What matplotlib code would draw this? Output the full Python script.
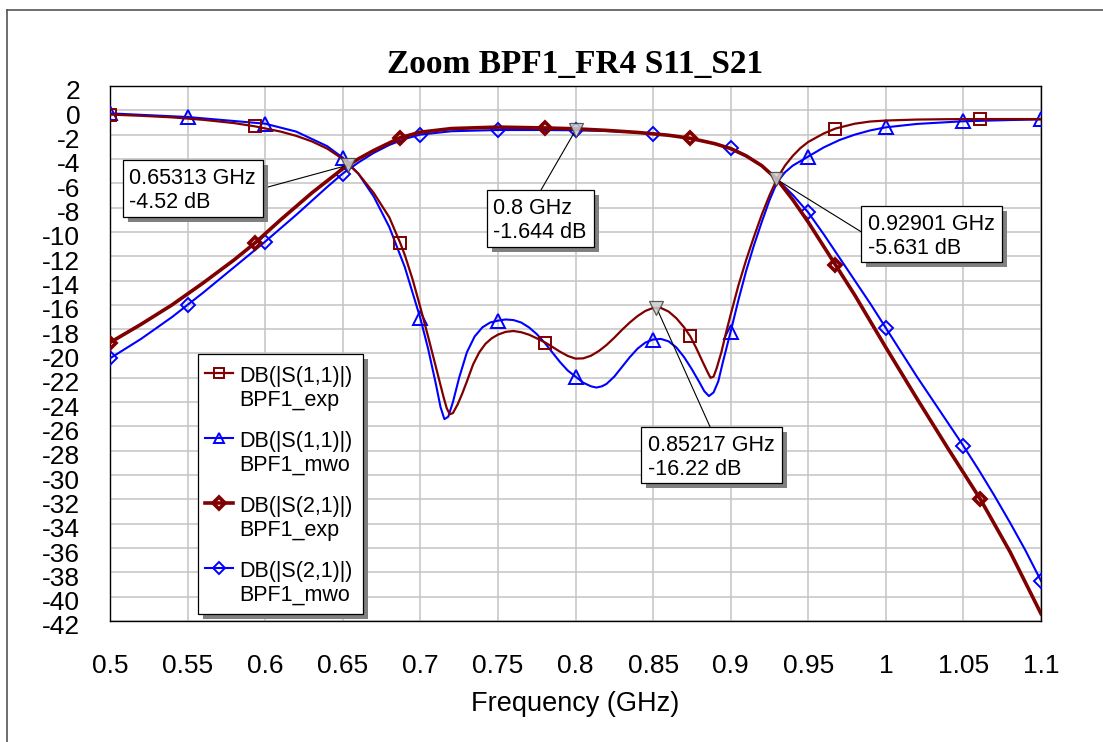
import numpy as np
import matplotlib
matplotlib.use("Agg")
import matplotlib.pyplot as plt
from matplotlib.patches import Rectangle
from matplotlib.lines import Line2D
from matplotlib.transforms import ScaledTranslation

plt.rcParams['font.family'] = ['Liberation Sans', 'DejaVu Sans']

# ---------------- data ----------------
# |S11| measured (dB)
f_s11_exp = [0.500, 0.520, 0.540, 0.560, 0.580, 0.5935, 0.610, 0.620, 0.630, 0.640,
             0.650, 0.660, 0.670, 0.680, 0.687, 0.690, 0.695, 0.700, 0.705, 0.710,
             0.715, 0.717, 0.719, 0.721, 0.724, 0.727, 0.730, 0.734, 0.738, 0.742,
             0.746, 0.750, 0.755, 0.760, 0.765, 0.770, 0.775, 0.7805, 0.785, 0.790,
             0.795, 0.800, 0.805, 0.810, 0.815, 0.820, 0.825, 0.830, 0.835, 0.840,
             0.845, 0.850, 0.855, 0.860, 0.865, 0.870, 0.874, 0.878, 0.882, 0.885,
             0.887, 0.889, 0.891, 0.894, 0.897, 0.900, 0.905, 0.910, 0.915, 0.920,
             0.925, 0.930, 0.935, 0.940, 0.945, 0.950, 0.960, 0.9675, 0.980, 0.990,
             1.000, 1.020, 1.040, 1.061, 1.080, 1.100]
db_s11_exp = [-0.35, -0.45, -0.58, -0.78, -1.05, -1.32, -1.75, -2.10, -2.55, -3.15,
              -4.00, -5.20, -6.80, -8.80, -10.90, -11.90, -13.90, -16.20, -18.60, -21.10,
              -23.60, -24.50, -25.00, -24.90, -24.20, -23.30, -22.30, -20.90, -19.90, -19.20,
              -18.75, -18.45, -18.22, -18.15, -18.25, -18.45, -18.75, -19.10, -19.45, -19.85,
              -20.20, -20.42, -20.40, -20.18, -19.80, -19.30, -18.70, -18.05, -17.45, -16.92,
              -16.50, -16.25, -16.25, -16.55, -17.10, -17.85, -18.60, -19.60, -20.70, -21.50,
              -22.00, -21.90, -21.20, -19.90, -18.30, -16.80, -14.40, -12.30, -10.40, -8.60,
              -7.00, -5.60, -4.55, -3.75, -3.10, -2.60, -1.90, -1.50, -1.10, -0.92,
              -0.84, -0.76, -0.73, -0.72, -0.72, -0.72]

# |S11| simulated (dB)
f_s11_mwo = [0.500, 0.550, 0.600, 0.620, 0.640, 0.650, 0.660, 0.670, 0.680, 0.690,
             0.700, 0.705, 0.710, 0.713, 0.7155, 0.718, 0.721, 0.725, 0.730, 0.735,
             0.740, 0.745, 0.750, 0.755, 0.760, 0.765, 0.770, 0.775, 0.780, 0.785,
             0.790, 0.795, 0.800, 0.805, 0.810, 0.8135, 0.817, 0.820, 0.825, 0.830,
             0.835, 0.840, 0.845, 0.850, 0.855, 0.860, 0.865, 0.870, 0.875, 0.880,
             0.883, 0.886, 0.889, 0.892, 0.895, 0.900, 0.905, 0.910, 0.915, 0.920,
             0.925, 0.930, 0.935, 0.940, 0.950, 0.960, 0.970, 0.980, 0.990, 1.000,
             1.020, 1.050, 1.080, 1.100]
db_s11_mwo = [-0.25, -0.55, -1.10, -1.75, -2.95, -3.90, -5.20, -7.10, -9.60, -12.90,
              -17.10, -19.60, -22.50, -24.40, -25.40, -25.20, -24.00, -22.00, -19.90, -18.60,
              -17.85, -17.45, -17.30, -17.20, -17.25, -17.45, -17.85, -18.40, -19.10, -19.90,
              -20.70, -21.40, -21.90, -22.40, -22.70, -22.80, -22.70, -22.50, -21.90, -21.10,
              -20.30, -19.60, -19.10, -18.85, -18.80, -19.00, -19.50, -20.30, -21.30, -22.40,
              -23.10, -23.50, -23.20, -22.30, -20.70, -18.20, -15.60, -13.20, -11.10, -9.20,
              -7.40, -5.90, -5.10, -4.55, -3.80, -3.05, -2.45, -2.00, -1.65, -1.40,
              -1.12, -0.90, -0.80, -0.75]

# |S21| measured (dB)
f_s21_exp = [0.500, 0.520, 0.540, 0.550, 0.560, 0.580, 0.5935, 0.610, 0.620, 0.630,
             0.640, 0.650, 0.660, 0.670, 0.687, 0.700, 0.720, 0.750, 0.7805, 0.800,
             0.820, 0.840, 0.860, 0.874, 0.890, 0.900, 0.910, 0.920, 0.930, 0.940,
             0.950, 0.9675, 0.980, 1.000, 1.020, 1.040, 1.061, 1.080, 1.100]
db_s21_exp = [-19.10, -17.60, -16.00, -15.10, -14.20, -12.30, -10.90, -9.00, -7.90, -6.80,
              -5.80, -4.80, -4.00, -3.30, -2.25, -1.80, -1.50, -1.38, -1.45, -1.52,
              -1.65, -1.82, -2.05, -2.30, -2.75, -3.15, -3.75, -4.55, -5.70, -7.35,
              -9.20, -12.70, -15.20, -19.50, -23.70, -27.80, -32.00, -36.30, -41.40]

# |S21| simulated (dB)
f_s21_mwo = [0.50, 0.52, 0.54, 0.55, 0.56, 0.58, 0.60, 0.62, 0.64, 0.65,
             0.66, 0.67, 0.68, 0.69, 0.70, 0.72, 0.75, 0.78, 0.80, 0.82,
             0.84, 0.85, 0.86, 0.88, 0.90, 0.91, 0.92, 0.93, 0.94, 0.95,
             0.96, 0.97, 0.98, 0.99, 1.00, 1.01, 1.02, 1.03, 1.04, 1.05,
             1.06, 1.07, 1.08, 1.09, 1.10]
db_s21_mwo = [-20.40, -18.80, -17.00, -16.00, -15.00, -12.90, -10.80, -8.60, -6.30, -5.20,
              -4.30, -3.50, -2.85, -2.35, -2.00, -1.72, -1.62, -1.62, -1.644, -1.70,
              -1.82, -1.92, -2.05, -2.45, -3.10, -3.70, -4.55, -5.70, -6.95, -8.40,
              -10.20, -12.10, -14.00, -15.90, -17.90, -19.90, -21.90, -23.80, -25.70, -27.60,
              -29.60, -31.70, -33.90, -36.20, -38.70]

# symbol positions along the traces (GHz)
exp_marks = [0.5, 0.5935, 0.687, 0.7805, 0.874, 0.9675, 1.061]
mwo_marks = [0.5, 0.55, 0.6, 0.65, 0.7, 0.75, 0.8, 0.85, 0.9, 0.95, 1.0, 1.05, 1.1]

# readout markers
mk_freq = [0.65313, 0.8, 0.92901, 0.85217]
mk_db = [-4.52, -1.644, -5.631, -16.22]

x_ticks = [0.5, 0.55, 0.6, 0.65, 0.7, 0.75, 0.8, 0.85, 0.9, 0.95, 1.0, 1.05, 1.1]
x_tick_labels = ['0.5', '0.55', '0.6', '0.65', '0.7', '0.75', '0.8', '0.85', '0.9',
                 '0.95', '1', '1.05', '1.1']
y_ticks = list(range(-42, 3, 2))
y_tick_labels = [str(v) for v in y_ticks]

legend_lines = ['DB(|S(1,1)|)', 'DB(|S(1,1)|)', 'DB(|S(2,1)|)', 'DB(|S(2,1)|)']
legend_sources = ['BPF1_exp', 'BPF1_mwo', 'BPF1_exp', 'BPF1_mwo']

# ---------------- layout ----------------
W, H = 1103, 742
fig = plt.figure(figsize=(W / 100, H / 100), dpi=100)
fig.patch.set_facecolor('white')
AX_L, AX_R, AX_T, AX_B = 110, 1041, 86, 621
ax = fig.add_axes([AX_L / W, 1 - AX_B / H, (AX_R - AX_L) / W, (AX_B - AX_T) / H])


def axf(xp, yp):
    """Canvas pixel (origin top-left) -> axes fraction."""
    return (xp - AX_L) / (AX_R - AX_L), (AX_B - yp) / (AX_B - AX_T)


def figf(xp, yp):
    return xp / W, 1 - yp / H


# outer frame of the graph window
fx0, fy0 = figf(6.5, 9.5)
fig.add_artist(Line2D([fx0, 1.0], [fy0, fy0], transform=fig.transFigure,
                      color='#555555', lw=1.2))
fig.add_artist(Line2D([fx0, fx0], [fy0, 0.0], transform=fig.transFigure,
                      color='#555555', lw=1.2))

RED = '#800000'
BLUE = '#0000ff'


def idx_of(freqs, marks):
    f = np.asarray(freqs)
    return [int(np.argmin(np.abs(f - m))) for m in marks]


styles = [
    (f_s11_mwo, db_s11_mwo, dict(color=BLUE, lw=1.5, marker='^', ms=9.5, mfc='none',
                                 mec=BLUE, mew=1.4), mwo_marks),
    (f_s21_mwo, db_s21_mwo, dict(color=BLUE, lw=1.5, marker='D', ms=6.8, mfc='none',
                                 mec=BLUE, mew=1.4), mwo_marks),
    (f_s11_exp, db_s11_exp, dict(color=RED, lw=1.6, marker='s', ms=8.6, mfc='none',
                                 mec=RED, mew=1.4), exp_marks),
    (f_s21_exp, db_s21_exp, dict(color=RED, lw=2.6, marker='D', ms=6.5, mfc='none',
                                 mec=RED, mew=2.6), exp_marks),
]
for f, d, st, marks in styles:
    ax.plot(f, d, markevery=idx_of(f, marks), zorder=3, **st)

ax.set_xlim(0.5, 1.1)
ax.set_ylim(-42, 2)
ax.set_xticks(x_ticks)
ax.set_xticklabels(x_tick_labels)
ax.set_yticks(y_ticks)
ax.set_yticklabels(y_tick_labels)
ax.tick_params(axis='both', length=0, labelsize=19)
ax.tick_params(axis='x', pad=24)
ax.tick_params(axis='y', pad=21.5)
for lab in ax.get_yticklabels():
    lab.set_transform(lab.get_transform() + ScaledTranslation(0, -4 / 100, fig.dpi_scale_trans))
ax.grid(True, color='#c4c4c4', lw=1.1)
ax.set_axisbelow(True)
for sp in ax.spines.values():
    sp.set_color('black')
    sp.set_linewidth(1.0)

# readout markers
ax.plot(mk_freq, mk_db, linestyle='none', marker='v', ms=10, mfc='#d0d0d0',
        mec='#404040', mew=0.9, zorder=6, alpha=0.85)

# readout boxes: (left, top, right, bottom) and leader attachment, canvas px
boxes = [
    ((122.7, 160.0, 262.7, 216.7), (268.0, 187.0)),
    ((486.7, 190.0, 594.0, 247.0), (541.0, 190.0)),
    ((861.0, 205.7, 1001.7, 261.7), (861.0, 231.7)),
    ((641.0, 426.7, 781.7, 483.3), (710.0, 426.7)),
]
SH = 5.0
for ((l, t, r, b), (axp, ayp)), fq, dbv in zip(boxes, mk_freq, mk_db):
    ax.annotate('', xy=(fq, dbv), xytext=axf(axp, ayp), textcoords='axes fraction',
                arrowprops=dict(arrowstyle='-', color='black', lw=0.8,
                                shrinkA=0, shrinkB=0), zorder=5)
    x0, y0 = axf(l + SH, b + SH)
    x1, y1 = axf(r + SH, t + SH)
    ax.add_patch(Rectangle((x0, y0), x1 - x0, y1 - y0, transform=ax.transAxes,
                           facecolor='#808080', edgecolor='none', zorder=7, clip_on=False))
    x0, y0 = axf(l, b)
    x1, y1 = axf(r, t)
    ax.add_patch(Rectangle((x0, y0), x1 - x0, y1 - y0, transform=ax.transAxes,
                           facecolor='white', edgecolor='black', lw=0.9, zorder=8,
                           clip_on=False))
    tx, ty1 = axf(l + 6.7, t + 24.0)
    _, ty2 = axf(l + 6.7, t + 48.0)
    ax.text(tx, ty1, f'{fq:g} GHz', transform=ax.transAxes, fontsize=15.5,
            va='baseline', ha='left', zorder=9)
    ax.text(tx, ty2, f'{dbv:g} dB', transform=ax.transAxes, fontsize=15.5,
            va='baseline', ha='left', zorder=9)

# legend
LG_L, LG_T, LG_R, LG_B = 198.3, 354.0, 362.7, 614.0
x0, y0 = axf(LG_L + SH, LG_B + SH)
x1, y1 = axf(LG_R + SH, LG_T + SH)
ax.add_patch(Rectangle((x0, y0), x1 - x0, y1 - y0, transform=ax.transAxes,
                       facecolor='#808080', edgecolor='none', zorder=7))
x0, y0 = axf(LG_L, LG_B)
x1, y1 = axf(LG_R, LG_T)
ax.add_patch(Rectangle((x0, y0), x1 - x0, y1 - y0, transform=ax.transAxes,
                       facecolor='white', edgecolor='black', lw=0.9, zorder=8))

legend_order = [styles[2], styles[0], styles[3], styles[1]]
legend_ms = [7.0, 7.5, 6.0, 6.0]
entry_y = [372.7, 437.5, 503.0, 567.5]
for (f, d, st, marks), ms, ey, l1, l2 in zip(legend_order, legend_ms, entry_y,
                                              legend_lines, legend_sources):
    hx0, hy = axf(205.0, ey)
    hx1, _ = axf(233.0, ey)
    hxm, _ = axf(219.0, ey)
    ax.add_line(Line2D([hx0, hx1], [hy, hy], transform=ax.transAxes, zorder=9,
                       color=st['color'], lw=st['lw']))
    ax.add_line(Line2D([hxm], [hy], transform=ax.transAxes, zorder=9, linestyle='none',
                       marker=st['marker'], ms=ms, mfc='none', mec=st['mec'],
                       mew=st['mew']))
    tx, b1 = axf(239.3, ey + 9.0)
    _, b2 = axf(239.3, ey + 33.0)
    ax.text(tx, b1, l1, transform=ax.transAxes, fontsize=15.5, va='baseline', zorder=9)
    ax.text(tx, b2, l2, transform=ax.transAxes, fontsize=15.5, va='baseline', zorder=9)

# titles
tx, ty = figf(575.5, 73.0)
fig.text(tx, ty, 'Zoom BPF1_FR4 S11_S21', ha='center', va='baseline',
         family=['Liberation Serif', 'DejaVu Serif'], fontweight='bold', fontsize=24)
tx, ty = figf(575.5, 711.0)
fig.text(tx, ty, 'Frequency (GHz)', ha='center', va='baseline', fontsize=19.5)

fig.savefig('out.png', dpi=100, facecolor='white')
